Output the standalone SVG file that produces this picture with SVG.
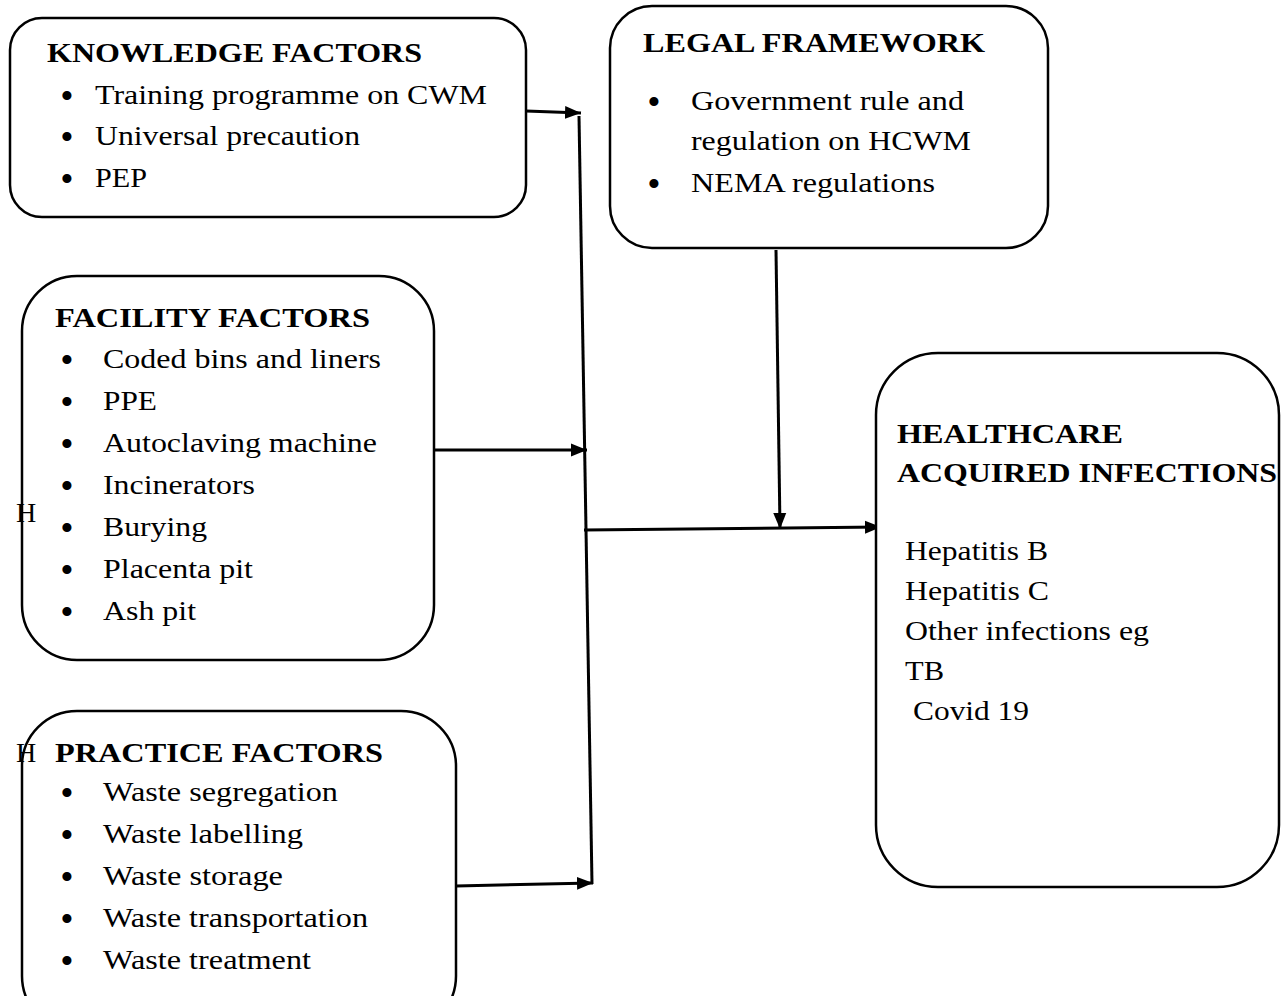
<svg xmlns="http://www.w3.org/2000/svg" width="1286" height="996" viewBox="0 0 1286 996">
<defs>
<style>
.box{fill:#fff;stroke:#000;stroke-width:2.5}
.t{font-family:"Liberation Serif","Times New Roman",serif;font-size:28px;fill:#000}
.b{font-weight:bold}
.u{font-family:"Liberation Serif","Times New Roman",serif;font-size:38px;fill:#000;text-anchor:middle}
.c{fill:none;stroke:#000;stroke-width:3}
</style>
<marker id="ah" markerUnits="userSpaceOnUse" markerWidth="18" markerHeight="14" refX="16" refY="7" orient="auto">
<path d="M0,0.5 L16,7 L0,13.5 Z" fill="#000"/>
</marker>
</defs>
<rect width="1286" height="996" fill="#fff"/>
<g id="connectors">
<line class="c" x1="579" y1="116" x2="592" y2="884"/>
<line class="c" x1="526" y1="111" x2="581" y2="113" marker-end="url(#ah)"/>
<line class="c" x1="434" y1="450" x2="587" y2="450" marker-end="url(#ah)"/>
<line class="c" x1="456" y1="886" x2="593" y2="883" marker-end="url(#ah)"/>
<line class="c" x1="584" y1="530" x2="881" y2="527" marker-end="url(#ah)"/>
<line class="c" x1="776" y1="250" x2="780" y2="529" marker-end="url(#ah)"/>
</g>
<g id="knowledge">
<rect class="box" x="10" y="18" width="516" height="199" rx="32" ry="32"/>
<text class="t b" x="47" y="62" textLength="375" lengthAdjust="spacingAndGlyphs">KNOWLEDGE FACTORS</text>
<text class="u" x="67" y="109">•</text><text class="t" x="95" y="104" textLength="392" lengthAdjust="spacingAndGlyphs">Training programme on CWM</text>
<text class="u" x="67" y="150">•</text><text class="t" x="95" y="145" textLength="265" lengthAdjust="spacingAndGlyphs">Universal precaution</text>
<text class="u" x="67" y="192">•</text><text class="t" x="95" y="187" textLength="52" lengthAdjust="spacingAndGlyphs">PEP</text>
</g>
<g id="legal">
<rect class="box" x="610" y="6" width="438" height="242" rx="42" ry="42"/>
<text class="t b" x="643" y="52" textLength="342" lengthAdjust="spacingAndGlyphs">LEGAL FRAMEWORK</text>
<text class="u" x="654" y="115">•</text><text class="t" x="691" y="110" textLength="273" lengthAdjust="spacingAndGlyphs">Government rule and</text>
<text class="t" x="691" y="150" textLength="280" lengthAdjust="spacingAndGlyphs">regulation on HCWM</text>
<text class="u" x="654" y="197">•</text><text class="t" x="691" y="192" textLength="244" lengthAdjust="spacingAndGlyphs">NEMA regulations</text>
</g>
<g id="facility">
<rect class="box" x="22" y="276" width="412" height="384" rx="55" ry="55"/>
<text class="t b" x="55" y="327" textLength="315" lengthAdjust="spacingAndGlyphs">FACILITY FACTORS</text>
<text class="u" x="67" y="373">•</text><text class="t" x="103" y="368" textLength="278" lengthAdjust="spacingAndGlyphs">Coded bins and liners</text>
<text class="u" x="67" y="415">•</text><text class="t" x="103" y="410" textLength="54" lengthAdjust="spacingAndGlyphs">PPE</text>
<text class="u" x="67" y="457">•</text><text class="t" x="103" y="452" textLength="274" lengthAdjust="spacingAndGlyphs">Autoclaving machine</text>
<text class="u" x="67" y="499">•</text><text class="t" x="103" y="494" textLength="152" lengthAdjust="spacingAndGlyphs">Incinerators</text>
<text class="u" x="67" y="541">•</text><text class="t" x="103" y="536" textLength="104" lengthAdjust="spacingAndGlyphs">Burying</text>
<text class="u" x="67" y="583">•</text><text class="t" x="103" y="578" textLength="150" lengthAdjust="spacingAndGlyphs">Placenta pit</text>
<text class="u" x="67" y="625">•</text><text class="t" x="103" y="620" textLength="93" lengthAdjust="spacingAndGlyphs">Ash pit</text>
<text class="t" x="16" y="522">H</text>
</g>
<g id="practice">
<rect class="box" x="22" y="711" width="434" height="320" rx="55" ry="55"/>
<text class="t" x="16" y="762">H</text>
<text class="t b" x="55" y="762" textLength="328" lengthAdjust="spacingAndGlyphs">PRACTICE FACTORS</text>
<text class="u" x="67" y="806">•</text><text class="t" x="103" y="801" textLength="235" lengthAdjust="spacingAndGlyphs">Waste segregation</text>
<text class="u" x="67" y="848">•</text><text class="t" x="103" y="843" textLength="200" lengthAdjust="spacingAndGlyphs">Waste labelling</text>
<text class="u" x="67" y="890">•</text><text class="t" x="103" y="885" textLength="180" lengthAdjust="spacingAndGlyphs">Waste storage</text>
<text class="u" x="67" y="932">•</text><text class="t" x="103" y="927" textLength="265" lengthAdjust="spacingAndGlyphs">Waste transportation</text>
<text class="u" x="67" y="974">•</text><text class="t" x="103" y="969" textLength="208" lengthAdjust="spacingAndGlyphs">Waste treatment</text>
</g>
<g id="healthcare">
<rect class="box" x="876" y="353" width="403" height="534" rx="62" ry="62"/>
<text class="t b" x="897" y="443" textLength="226" lengthAdjust="spacingAndGlyphs">HEALTHCARE</text>
<text class="t b" x="897" y="482" textLength="380" lengthAdjust="spacingAndGlyphs">ACQUIRED INFECTIONS</text>
<text class="t" x="905" y="560" textLength="143" lengthAdjust="spacingAndGlyphs">Hepatitis B</text>
<text class="t" x="905" y="600" textLength="144" lengthAdjust="spacingAndGlyphs">Hepatitis C</text>
<text class="t" x="905" y="640" textLength="244" lengthAdjust="spacingAndGlyphs">Other infections eg</text>
<text class="t" x="905" y="680" textLength="39" lengthAdjust="spacingAndGlyphs">TB</text>
<text class="t" x="913" y="720" textLength="116" lengthAdjust="spacingAndGlyphs">Covid 19</text>
</g>
</svg>
